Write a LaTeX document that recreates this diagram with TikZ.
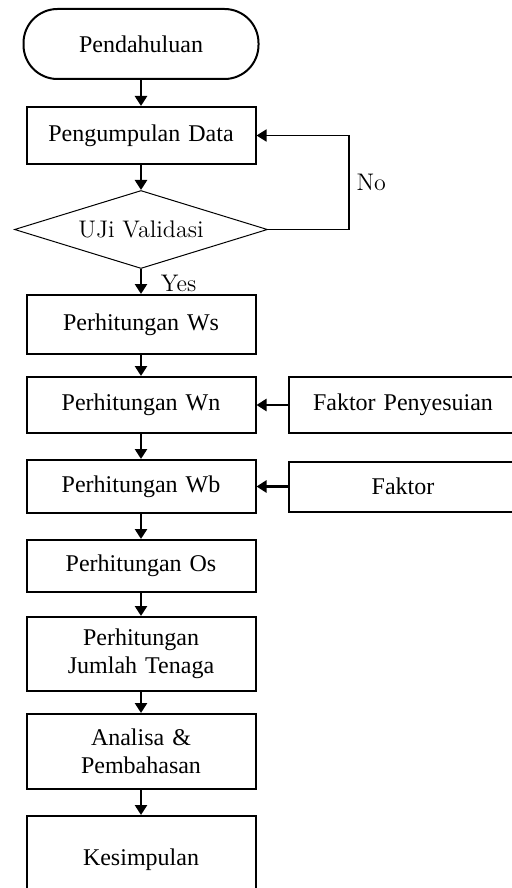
\documentclass[tikz,border=0pt]{standalone}
\usepackage{fontspec}
\newfontfamily\timesfont{Liberation Serif}
\usetikzlibrary{positioning,shapes.geometric,arrows.meta}
\tikzset{
  mulai/.style={
    rectangle,
    rounded corners=17pt,
    draw=black,line width=1pt,
    minimum width=117.5pt,
    minimum height=35pt,
    font=\timesfont\fontsize{12}{13.8}\selectfont},
  kotak/.style={
    rectangle,
    draw=black,line width=1pt,
    text width=100pt,
    minimum width=114.5pt,
    minimum height=28pt,
    align=center,
    font=\timesfont\fontsize{12}{13.8}\selectfont},
  kotakif/.style={
    diamond,
    draw=black,line width=0.5pt,
    aspect=3.2,
    inner sep=0pt,
    minimum width=126.5pt,
    minimum height=39pt,
    font=\fontsize{12}{14}\selectfont},
  panah/.style={draw,line width=1.3pt,-{Triangle[length=5pt,width=6pt]}},
  teks/.style={font=\fontsize{12}{14}\selectfont},
}
\begin{document}
\begin{tikzpicture}[node distance=12.5pt]
  \useasboundingbox (0,0) rectangle (255.5pt,-444pt);
  \node[mulai](pendahuluan) at (70.5pt,-22pt) {Pendahuluan};
  \node[kotak,minimum height=28.5pt](pengumpulan)[below=13pt of pendahuluan] {Pengumpulan Data};
  \draw[panah] (pendahuluan) -- (pengumpulan);
  \node[kotakif](uji)[below=of pengumpulan] {UJi Validasi};
  \draw[panah] (pengumpulan) -- (uji);
  \coordinate[right=40.5pt of uji.east](belok);
  \draw[panah,line width=0.9pt] (uji.east) -- (belok) |- node[teks,pos=0.25,right]{No} (pengumpulan.east);
  \node[kotak,minimum height=29.5pt](ws)[below=of uji] {Perhitungan Ws};
  \draw[panah] (uji) -- node[teks,right=6pt,yshift=-1pt]{Yes} (ws);
  \node[kotak](wn)[below=10.5pt of ws] {Perhitungan Wn};
  \draw[panah] (ws) -- (wn);
  \node[kotak](penyesuaian)[right=15.5pt of wn] {Faktor Penyesuian};
  \draw[panah] (penyesuaian) -- (wn);
  \node[kotak,minimum height=26.5pt](wb)[below=of wn] {Perhitungan Wb};
  \draw[panah] (wn) -- (wb);
  \node[kotak,minimum height=25pt](faktor)[right=15.5pt of wb] {Faktor};
  \draw[panah] (faktor) -- (wb);
  \node[kotak,minimum height=26pt](os)[below=of wb] {Perhitungan Os};
  \draw[panah] (wb) -- (os);
  \node[kotak,minimum height=37pt](jumlah)[below=11.5pt of os] {Perhitungan\\Jumlah Tenaga};
  \draw[panah] (os) -- (jumlah);
  \node[kotak,minimum height=37.5pt](analisa)[below=10.5pt of jumlah] {Analisa \&\\Pembahasan};
  \draw[panah] (jumlah) -- (analisa);
  \node[kotak,minimum height=44pt](kesimpulan)[below=of analisa] {Kesimpulan};
  \draw[panah] (analisa) -- (kesimpulan);
\end{tikzpicture}
\end{document}
